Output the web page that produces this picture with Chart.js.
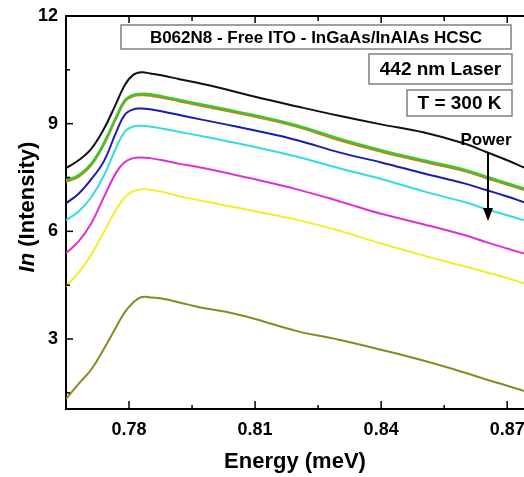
<!DOCTYPE html>
<html>
<head>
<meta charset="utf-8">
<script src="https://cdn.jsdelivr.net/npm/chart.js@4.4.1/dist/chart.umd.min.js"></script>
<style>
  html, body { margin: 0; padding: 0; background: #fff; }
  #wrap { width: 524px; height: 477px; position: relative; }
</style>
</head>
<body>
<div id="wrap"><canvas id="plChart"></canvas></div>
<script>
// energy axis (meV) and ln(intensity) per excitation power
const energy  = [0.765, 0.768, 0.771, 0.774, 0.777, 0.779, 0.781, 0.783, 0.785, 0.788, 0.792, 0.797, 0.803, 0.810, 0.820, 0.830, 0.840, 0.850, 0.860, 0.865, 0.870, 0.874];
const black   = [7.76, 7.98, 8.30, 8.85, 9.58, 10.08, 10.36, 10.43, 10.40, 10.34, 10.24, 10.12, 9.96, 9.75, 9.48, 9.22, 8.98, 8.76, 8.44, 8.21, 7.98, 7.78];
const green   = [7.42, 7.56, 7.88, 8.45, 9.20, 9.65, 9.80, 9.83, 9.82, 9.76, 9.66, 9.54, 9.40, 9.23, 8.95, 8.58, 8.26, 7.98, 7.71, 7.52, 7.34, 7.19];
const orange  = [7.38, 7.52, 7.84, 8.41, 9.16, 9.61, 9.76, 9.79, 9.78, 9.72, 9.62, 9.50, 9.36, 9.19, 8.91, 8.54, 8.22, 7.94, 7.67, 7.48, 7.30, 7.15];
const blue    = [6.78, 7.05, 7.45, 7.95, 8.78, 9.25, 9.40, 9.42, 9.40, 9.34, 9.24, 9.12, 8.98, 8.81, 8.54, 8.20, 7.92, 7.62, 7.33, 7.15, 6.97, 6.81];
const cyan    = [6.31, 6.55, 6.95, 7.55, 8.35, 8.78, 8.92, 8.94, 8.92, 8.86, 8.77, 8.66, 8.52, 8.35, 8.08, 7.76, 7.46, 7.12, 6.81, 6.62, 6.45, 6.31];
const magenta = [5.39, 5.72, 6.22, 6.95, 7.65, 7.93, 8.04, 8.06, 8.04, 7.98, 7.88, 7.78, 7.63, 7.45, 7.17, 6.84, 6.49, 6.20, 5.89, 5.70, 5.52, 5.38];
const yellow  = [4.47, 4.85, 5.35, 5.98, 6.62, 6.95, 7.12, 7.17, 7.16, 7.10, 6.98, 6.86, 6.72, 6.56, 6.32, 6.02, 5.66, 5.33, 5.02, 4.86, 4.70, 4.55];
const olive   = [1.33, 1.75, 2.15, 2.72, 3.35, 3.75, 4.02, 4.17, 4.16, 4.12, 4.02, 3.88, 3.76, 3.56, 3.22, 2.98, 2.70, 2.40, 2.06, 1.87, 1.70, 1.55];

const xTicks = [0.78, 0.81, 0.84, 0.87];
const xMinor = [0.795, 0.825, 0.855];
const yTicks = [3, 6, 9, 12];
const yMinor = [1.5, 4.5, 7.5, 10.5];

const FONT = "'Liberation Sans', Arial, sans-serif";

function pts(vals) {
    return energy.map((e, i) => ({ x: e, y: vals[i] }));
}

function line(ctx, x1, y1, x2, y2) {
    ctx.beginPath();
    ctx.moveTo(x1, y1);
    ctx.lineTo(x2, y2);
    ctx.stroke();
}

function textBox(ctx, x, y, w, h, text, size) {
    ctx.fillStyle = '#fff';
    ctx.fillRect(x, y, w, h);
    ctx.strokeStyle = '#808080';
    ctx.lineWidth = 1.5;
    ctx.strokeRect(x, y, w, h);
    ctx.fillStyle = '#000';
    ctx.font = 'bold ' + size + 'px ' + FONT;
    ctx.textAlign = 'center';
    ctx.textBaseline = 'middle';
    ctx.fillText(text, x + w / 2, y + h / 2 + 1);
}

// inward ticks, top frame, text boxes, arrow and axis titles
const overlay = {
    id: 'overlay',
    afterDraw(chart) {
        const ctx = chart.ctx;
        const a = chart.chartArea;
        const xs = chart.scales.x, ys = chart.scales.y;
        ctx.save();
        ctx.strokeStyle = '#000';
        ctx.lineWidth = 2;
        line(ctx, a.left - 1, a.top, a.right, a.top);

        ctx.lineWidth = 1.5;
        xTicks.forEach(v => {
            const px = xs.getPixelForValue(v);
            line(ctx, px, a.bottom, px, a.bottom - 8);
            line(ctx, px, a.top, px, a.top + 7);
        });
        xMinor.forEach(v => {
            const px = xs.getPixelForValue(v);
            line(ctx, px, a.bottom, px, a.bottom - 4);
            line(ctx, px, a.top, px, a.top + 5);
        });
        yTicks.forEach(v => {
            const py = ys.getPixelForValue(v);
            line(ctx, a.left, py, a.left + 7, py);
        });
        yMinor.forEach(v => {
            const py = ys.getPixelForValue(v);
            line(ctx, a.left, py, a.left + 4, py);
        });

        textBox(ctx, 121, 25, 390, 24, 'B062N8 - Free ITO - InGaAs/InAlAs HCSC', 17);
        textBox(ctx, 369, 54, 143, 30, '442 nm Laser', 19);
        textBox(ctx, 407, 90, 105, 26, 'T = 300 K', 19);

        // power arrow
        ctx.fillStyle = '#000';
        ctx.strokeStyle = '#000';
        ctx.font = 'bold 17px ' + FONT;
        ctx.textAlign = 'center';
        ctx.textBaseline = 'middle';
        ctx.fillText('Power', 486, 140);
        ctx.lineWidth = 2;
        line(ctx, 488, 152, 488, 210);
        ctx.beginPath();
        ctx.moveTo(483, 208);
        ctx.lineTo(493, 208);
        ctx.lineTo(488, 221);
        ctx.closePath();
        ctx.fill();

        // x title
        ctx.font = 'bold 22px ' + FONT;
        ctx.fillText('Energy (meV)', (a.left + a.right) / 2, 462);

        // y title: italic "In" + " (Intensity)"
        ctx.translate(28, 207);
        ctx.rotate(-Math.PI / 2);
        const f1 = 'italic bold 22px ' + FONT, f2 = 'bold 22px ' + FONT;
        ctx.font = f1;
        const w1 = ctx.measureText('In').width;
        ctx.font = f2;
        const w2 = ctx.measureText(' (Intensity)').width;
        ctx.textAlign = 'left';
        ctx.font = f1;
        ctx.fillText('In', -(w1 + w2) / 2, 0);
        ctx.font = f2;
        ctx.fillText(' (Intensity)', -(w1 + w2) / 2 + w1, 0);
        ctx.restore();
    }
};

const series = [
    { data: black,   color: '#111111', width: 2 },
    { data: green,   color: '#3cc82a', width: 2.5 },
    { data: orange,  color: '#e0701c', width: 2 },
    { data: blue,    color: '#1c1cb0', width: 2 },
    { data: cyan,    color: '#34dcdc', width: 2 },
    { data: magenta, color: '#e030d4', width: 2 },
    { data: yellow,  color: '#f2ee2a', width: 2 },
    { data: olive,   color: '#8a8a1e', width: 2 }
];

const ctx = document.getElementById('plChart').getContext('2d');
new Chart(ctx, {
    type: 'line',
    data: {
        datasets: series.map(s => ({
            data: pts(s.data),
            borderColor: s.color,
            borderWidth: s.width,
            pointRadius: 0,
            fill: false,
            tension: 0.4
        }))
    },
    options: {
        responsive: true,
        maintainAspectRatio: false,
        animation: false,
        layout: { padding: { top: 16, right: 0, left: 0, bottom: 0 } },
        plugins: { legend: { display: false }, tooltip: { enabled: false } },
        scales: {
            x: {
                type: 'linear',
                min: 0.765,
                max: 0.874,
                afterBuildTicks(scale) { scale.ticks = xTicks.map(v => ({ value: v })); },
                afterFit(scale) {
                    scale.height = 68;
                    scale.paddingRight = 0;
                    scale.paddingLeft = 0;
                },
                grid: { display: false, drawTicks: false },
                border: { display: true, color: '#000', width: 2 },
                ticks: {
                    color: '#000',
                    padding: 10,
                    maxRotation: 0,
                    font: { family: FONT, weight: 'bold', size: 18 },
                    callback: v => v.toFixed(2)
                }
            },
            y: {
                min: 1.05,
                max: 12,
                afterBuildTicks(scale) { scale.ticks = yTicks.map(v => ({ value: v })); },
                afterFit(scale) {
                    scale.width = 66;
                    scale.paddingTop = 0;
                    scale.paddingBottom = 0;
                },
                grid: { display: false, drawTicks: false },
                border: { display: true, color: '#000', width: 2 },
                ticks: {
                    color: '#000',
                    padding: 8,
                    font: { family: FONT, weight: 'bold', size: 18 }
                }
            }
        }
    },
    plugins: [overlay]
});
</script>
</body>
</html>
